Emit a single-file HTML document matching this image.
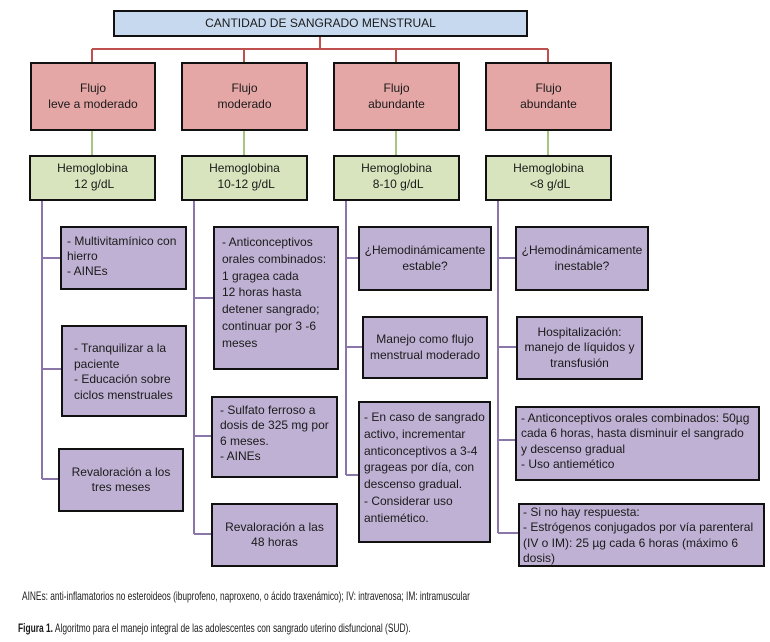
<!DOCTYPE html>
<html><head><meta charset="utf-8"><style>
body{margin:0;background:#fff;width:770px;height:642px;position:relative;overflow:hidden;font-family:"Liberation Sans",Arial,sans-serif;color:#1a1a1a}
.b{position:absolute;box-sizing:border-box;border:2px solid #111;font-size:12px;line-height:15.5px;padding:3px 5px}
.c{text-align:center;display:flex;align-items:center;justify-content:center}
.r{background:#e5a6a6}
.g{background:#d7e4bd;text-align:center;padding-top:4px}
.p{background:#bfb1d3}
.n{white-space:nowrap}
.t{position:absolute;white-space:nowrap;font-size:12px;transform-origin:0 0}
</style></head><body>
<svg width="770" height="642" style="position:absolute;left:0;top:0">
<g stroke="#c0504d" stroke-width="2" fill="none">
<path d="M320 36V49M92 49H548M92 49V62M244 49V62M396 49V62M548 49V62"/>
</g>
<g stroke="#a9c47f" stroke-width="2">
<path d="M92 130V155M244 130V155M396 130V155M548 130V155"/>
</g>
<g stroke="#8a76a8" stroke-width="2" fill="none">
<path d="M42 200V479M42 258H60M42 369H61M42 479H58"/>
<path d="M194 200V534M194 298H213M194 436H211M194 534H211"/>
<path d="M346 200V475M346 258H358M346 347H362M346 475H358"/>
<path d="M498 200V533M498 258H515M498 347H516M498 440H515M498 533H518"/>
</g>
</svg>
<div class="b c" style="left:113px;top:10px;width:415px;height:27px;background:#c6d9ef;padding:0">CANTIDAD DE SANGRADO MENSTRUAL</div>

<div class="b c r" style="left:30px;top:62px;width:126px;height:69px">Flujo<br>leve a moderado</div>
<div class="b c r" style="left:181px;top:62px;width:127px;height:69px">Flujo<br>moderado</div>
<div class="b c r" style="left:333px;top:62px;width:127px;height:69px">Flujo<br>abundante</div>
<div class="b c r" style="left:485px;top:62px;width:127px;height:69px">Flujo<br>abundante</div>

<div class="b g" style="left:29px;top:155px;width:127px;height:46px">Hemoglobina<br>&nbsp;12 g/dL</div>
<div class="b g" style="left:181px;top:155px;width:127px;height:46px">Hemoglobina<br>&nbsp;10-12 g/dL</div>
<div class="b g" style="left:333px;top:155px;width:127px;height:46px">Hemoglobina<br>&nbsp;8-10 g/dL</div>
<div class="b g" style="left:485px;top:155px;width:127px;height:46px">Hemoglobina<br>&nbsp;&lt;8 g/dL</div>

<div class="b p" style="left:60px;top:226px;width:127px;height:64px;padding-top:6px;line-height:15px">- Multivitamínico con hierro<br>- AINEs</div>
<div class="b p" style="left:61px;top:325px;width:126px;height:92px;padding:14px 5px 0 11px;line-height:15.5px">- Tranquilizar a la paciente<br>- Educación sobre ciclos menstruales</div>
<div class="b c p" style="left:58px;top:448px;width:126px;height:64px">Revaloración a los tres meses</div>

<div class="b p n" style="left:213px;top:226px;width:126px;height:144px;padding:6px 4px 0 7px;line-height:16.8px">- Anticonceptivos<br>orales combinados:<br>1 gragea cada<br>12 horas hasta<br>detener sangrado;<br>continuar por 3 -6<br>meses</div>
<div class="b p" style="left:211px;top:396px;width:127px;height:82px;padding:5px 5px 0 7px;line-height:15.3px">- Sulfato ferroso a dosis de 325 mg por 6 meses.<br>- AINEs</div>
<div class="b c p" style="left:211px;top:503px;width:127px;height:64px">Revaloración a las 48 horas</div>

<div class="b c p" style="left:358px;top:226px;width:134px;height:65px;padding:0 2px">¿Hemodinámicamente estable?</div>
<div class="b c p" style="left:362px;top:316px;width:126px;height:63px">Manejo como flujo menstrual moderado</div>
<div class="b p" style="left:358px;top:401px;width:133px;height:142px;padding:6px 3px 0 4px;line-height:16.8px">- En caso de sangrado activo, incrementar anticonceptivos a 3-4 grageas por día, con descenso gradual.<br>- Considerar uso antiemético.</div>

<div class="b c p" style="left:515px;top:226px;width:134px;height:65px;padding:0 2px">¿Hemodinámicamente inestable?</div>
<div class="b c p" style="left:516px;top:316px;width:127px;height:64px">Hospitalización: manejo de líquidos y transfusión</div>
<div class="b p n" style="left:515px;top:406px;width:245px;height:75px;padding:3px 2px 0 4px;line-height:15.3px">- Anticonceptivos orales combinados: 50µg<br>cada 6 horas, hasta disminuir el sangrado<br>y descenso gradual<br>- Uso antiemético</div>
<div class="b p" style="left:518px;top:503px;width:247px;height:64px;padding:0 3px 0 3px;line-height:15.3px">- Si no hay respuesta:<br>- Estrógenos conjugados por vía parenteral (IV o IM): 25 µg cada 6 horas (máximo 6 dosis)</div>

<div class="t" style="left:22px;top:589px;font-size:12px;transform:scaleX(0.695)">AINEs: anti-inflamatorios no esteroideos (ibuprofeno, naproxeno, o ácido traxenámico); IV: intravenosa; IM: intramuscular</div>
<div class="t" style="left:18px;top:621px;font-size:12px;transform:scaleX(0.7)"><b>Figura 1.</b> Algoritmo para el manejo integral de las adolescentes con sangrado uterino disfuncional (SUD).</div>
</body></html>
